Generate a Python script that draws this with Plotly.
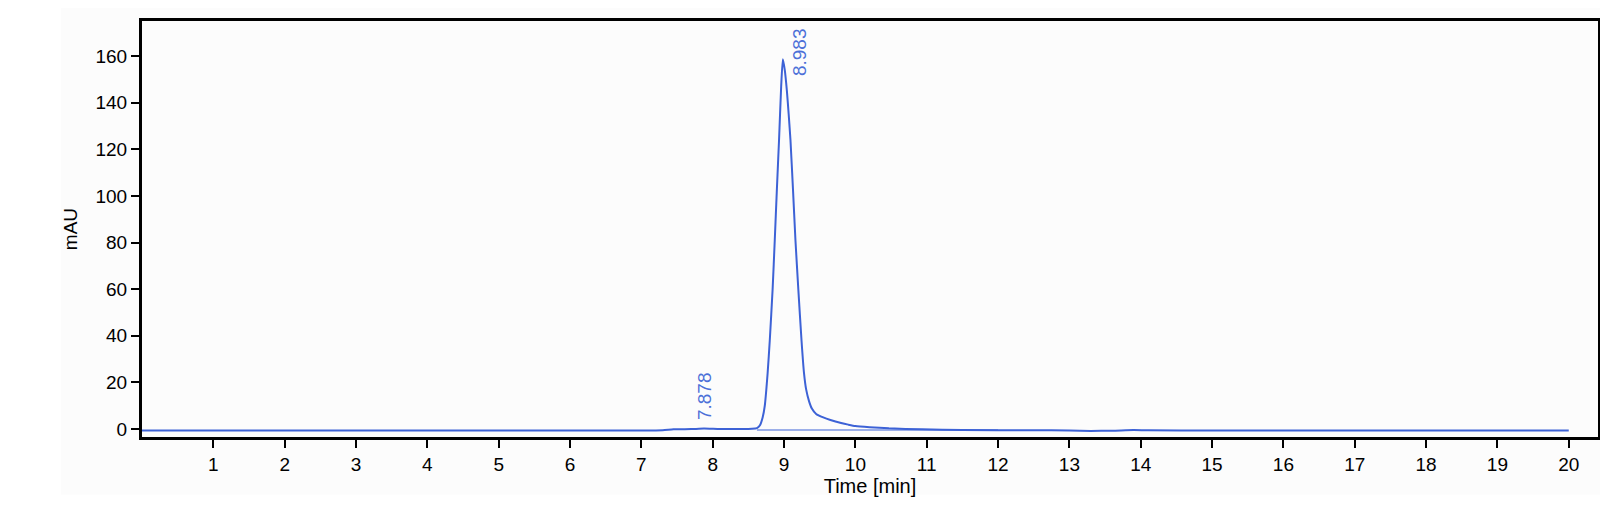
import plotly.graph_objects as go

# chromatogram (time in min, signal in mAU)
time_min = [0.0, 2.0, 4.0, 6.0, 7.0, 7.3, 7.45, 7.7, 7.878, 8.1, 8.4, 8.55,
            8.62, 8.66, 8.70, 8.73, 8.77, 8.80, 8.84, 8.87, 8.90, 8.93, 8.96,
            8.983, 9.01, 9.04, 9.065, 9.09, 9.125, 9.16, 9.20, 9.245, 9.28,
            9.31, 9.35, 9.39, 9.45, 9.55, 9.65, 9.8, 9.9, 10.0, 10.2, 10.47,
            10.93, 11.5, 12.5, 13.0, 13.3, 13.6, 13.9, 14.1, 15.0, 17.0, 20.0]
mau = [-0.6, -0.6, -0.6, -0.6, -0.6, -0.5, -0.1, 0.0, 0.2, 0.0, 0.0, 0.1,
       0.4, 1.5, 5.0, 10.0, 24.0, 38.0, 60.0, 81.0, 103.0, 124.0, 147.0,
       158.6, 154.0, 145.0, 135.0, 124.0, 103.0, 81.0, 60.0, 38.0, 24.0,
       17.0, 12.0, 8.8, 6.5, 5.0, 3.9, 2.6, 1.9, 1.3, 0.8, 0.3,
       -0.1, -0.4, -0.5, -0.6, -0.8, -0.7, -0.4, -0.5, -0.6, -0.6, -0.6]

# integration baseline under the main peak
base_t = [8.62, 12.0]
base_v = [-0.4, -0.4]

peaks_t = [7.878, 8.983]
peaks_v = [0.0, 158.6]
peak_labels = ["7.878", "8.983"]

x_ticks = list(range(1, 21))
y_ticks = list(range(0, 161, 20))

blue = "#3d62d6"
font = "Liberation Sans, Arial, sans-serif"

fig = go.Figure()
fig.add_trace(go.Scatter(x=base_t, y=base_v, mode="lines",
                         line=dict(color=blue, width=1), hoverinfo="skip"))
fig.add_trace(go.Scatter(x=time_min, y=mau, mode="lines",
                         line=dict(color=blue, width=2, shape="spline", smoothing=0.5)))

shifts = [(0, 7), (16, -19)]
for t, v, lab, (dx, dy) in zip(peaks_t, peaks_v, peak_labels, shifts):
    fig.add_annotation(x=t, y=v, text=lab, showarrow=False, textangle=-90,
                       xanchor="center", yanchor="bottom", xshift=dx, yshift=dy,
                       font=dict(family=font, size=19, color="#4c70d8"))

# light grey card behind the chart, white strip below it
fig.add_shape(type="rect", xref="paper", yref="paper", layer="below",
              x0=-81 / 1456, x1=1460 / 1456, y0=-58 / 419, y1=1.05,
              fillcolor="#fcfcfc", line_width=0)

fig.update_xaxes(range=[0.0, 20.41], tickvals=x_ticks, ticks="outside", ticklen=8,
                 tickwidth=2, tickcolor="black", showline=True, linewidth=3,
                 linecolor="black", mirror=True, showgrid=False, zeroline=False,
                 title=dict(text="Time [min]", standoff=5),
                 tickfont=dict(size=19), title_font=dict(size=20))
fig.update_yaxes(range=[-3.4, 175], tickvals=y_ticks, ticks="outside", ticklen=8,
                 tickwidth=2, tickcolor="black", showline=True, linewidth=3,
                 linecolor="black", mirror=True, showgrid=False, zeroline=False,
                 title=dict(text="mAU", standoff=13),
                 tickfont=dict(size=19), title_font=dict(size=19))

fig.update_layout(width=1608, height=524, showlegend=False,
                  margin=dict(l=134, r=18, t=10, b=95),
                  paper_bgcolor="white", plot_bgcolor="#fcfcfc",
                  font=dict(family=font, color="black"))

fig.write_html("out.html")
